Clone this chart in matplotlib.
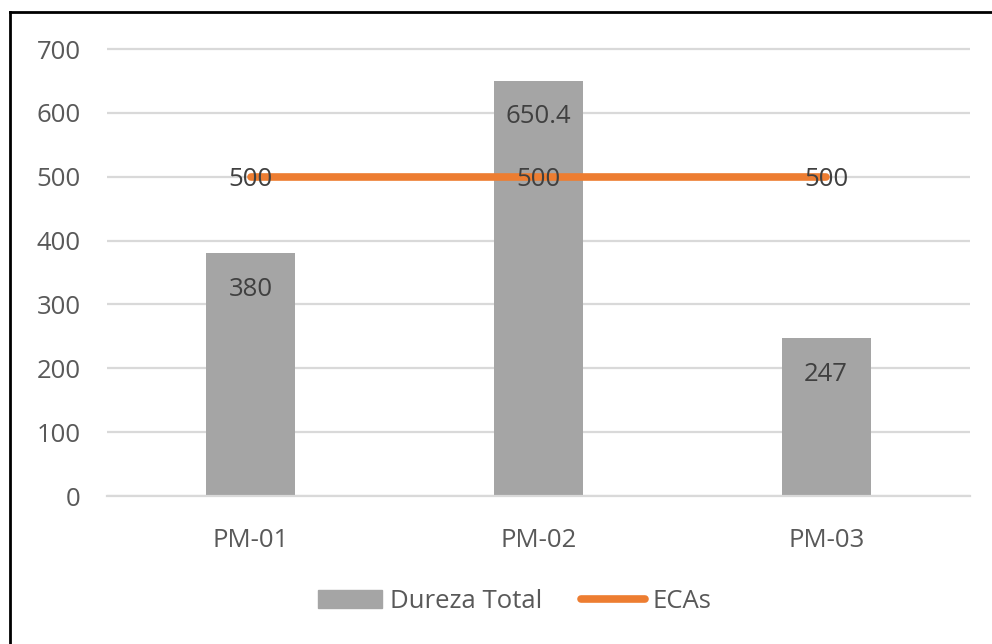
import matplotlib.pyplot as plt
from matplotlib.lines import Line2D
from matplotlib.patches import Patch

plt.rcParams['font.family'] = ['Open Sans', 'DejaVu Sans']

# data
sites = ["PM-01", "PM-02", "PM-03"]
dureza = [380, 650.4, 247]
ecas = [500, 500, 500]
dureza_labels = ["380", "650.4", "247"]
ecas_labels = ["500", "500", "500"]
yticks = [0, 100, 200, 300, 400, 500, 600, 700]

TXT = "#595959"
LBL = "#404040"
GRID = "#d9d9d9"
BAR = "#a5a5a5"
ORANGE = "#ed7d31"
FS = 18.5

fig = plt.figure(figsize=(9.92, 6.44), dpi=100)
ax = fig.add_axes([107 / 992, 148 / 644, 863 / 992, (644 - 47.1) / 644 - 148 / 644])

x = list(range(len(sites)))
ax.bar(x, dureza, width=0.31, color=BAR, zorder=2)
ax.plot(x, ecas, color=ORANGE, lw=5.5, solid_capstyle="round", zorder=3)

for xi, v, s in zip(x, dureza, dureza_labels):
    ax.annotate(s, (xi, v), xytext=(0, -26), textcoords="offset points",
                ha="center", va="center", fontsize=FS, color=LBL, zorder=4)
for xi, v, s in zip(x, ecas, ecas_labels):
    ax.annotate(s, (xi, v), xytext=(0, -2), textcoords="offset points",
                ha="center", va="center", fontsize=FS, color=LBL, zorder=4)

ax.set_xlim(-0.5, 2.5)
ax.set_ylim(0, 703)
ax.set_yticks(yticks)
ax.set_xticks(x)
ax.set_xticklabels(sites)
ax.tick_params(axis="both", length=0, labelsize=FS, labelcolor=TXT)
ax.tick_params(axis="y", pad=19)
ax.tick_params(axis="x", pad=23)
ax.yaxis.grid(True, color=GRID, lw=1.6, zorder=0)
ax.set_axisbelow(True)
for sp in ["top", "right", "left"]:
    ax.spines[sp].set_visible(False)
ax.spines["bottom"].set_color(GRID)
ax.spines["bottom"].set_linewidth(1.6)

handles = [Patch(color=BAR, label="Dureza Total"),
           Line2D([], [], color=ORANGE, lw=5.5, solid_capstyle="round", label="ECAs")]
leg = fig.legend(handles=handles, loc="center", bbox_to_anchor=(515 / 992, 1 - 601 / 644),
                 ncol=2, frameon=False, fontsize=FS, handlelength=2.5,
                 handletextpad=0.3, columnspacing=1.5, labelcolor=TXT)

# frame edges visible in the reference (top and left only)
fig.add_artist(Line2D([9.5 / 992, 9.5 / 992], [0, 1 - 12 / 644], color="black", lw=2,
                      transform=fig.transFigure))
fig.add_artist(Line2D([9.5 / 992, 1], [1 - 12 / 644, 1 - 12 / 644], color="black", lw=2,
                      transform=fig.transFigure))

fig.savefig("out.png", dpi=100)
